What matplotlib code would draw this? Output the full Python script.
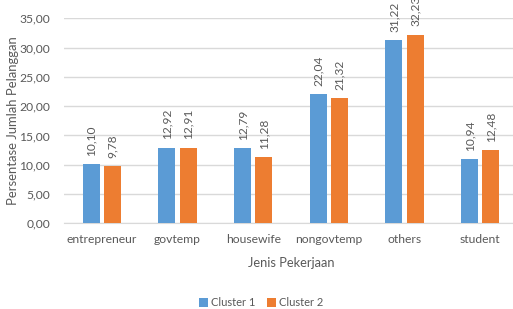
import matplotlib
matplotlib.use("Agg")
import matplotlib.pyplot as plt
import numpy as np

categories = ["entrepreneur", "govtemp", "housewife", "nongovtemp", "others", "student"]
cluster1 = [10.10, 12.92, 12.79, 22.04, 31.22, 10.94]
cluster2 = [9.78, 12.91, 11.28, 21.32, 32.23, 12.48]
yticks = [0, 5, 10, 15, 20, 25, 30, 35]

plt.rcParams['font.family'] = ['Lato', 'DejaVu Sans']
gray = '#595959'

fig = plt.figure(figsize=(5.13, 3.09), dpi=100)
ax = fig.add_axes([64/513, (309-223.3)/309, (518-64)/513, (223.3-18.3)/309])

x = np.arange(len(categories))
w = 0.225
off = 0.139
b1 = ax.bar(x - off, cluster1, w, color='#5B9BD5', label='Cluster 1', zorder=3)
b2 = ax.bar(x + off, cluster2, w, color='#ED7D31', label='Cluster 2', zorder=3)

def fmt(v):
    return f"{v:.2f}".replace('.', ',')

for bars, vals in ((b1, cluster1), (b2, cluster2)):
    for r, v in zip(bars, vals):
        ax.annotate(fmt(v), (r.get_x() + r.get_width()/2, v), xytext=(0, 6),
                    textcoords='offset points', rotation=90, ha='center', va='bottom',
                    fontsize=8.6, color=gray, annotation_clip=False)

ax.set_xlim(-0.5, len(categories) - 0.5)
ax.set_ylim(0, 35)
ax.set_yticks(yticks)
ax.set_yticklabels([fmt(t) for t in yticks])
ax.set_xticks(x)
ax.set_xticklabels(categories)
ax.tick_params(axis='both', length=0, colors=gray, labelsize=8.7)
ax.tick_params(axis='y', pad=10)
ax.tick_params(axis='x', pad=8)
ax.yaxis.grid(True, color='#D9D9D9', linewidth=1, zorder=0)
for s in ['top', 'right', 'left']:
    ax.spines[s].set_visible(False)
ax.spines['bottom'].set_color('#D9D9D9')

ax.set_xlabel('Jenis Pekerjaan', fontsize=9.3, color=gray, labelpad=8)
ax.set_ylabel('Persentase Jumlah Pelanggan', fontsize=9.4, color=gray)
ax.yaxis.set_label_coords(-(64-19)/454, 0.5)

fig.legend(handles=[b1, b2], loc='center', bbox_to_anchor=(261/513, 1 - 303/309),
           ncol=2, frameon=False, fontsize=8, handlelength=0.8, handleheight=0.8,
           handletextpad=0.3, columnspacing=1.0, labelcolor=gray)

fig.savefig('out.png', dpi=100)
